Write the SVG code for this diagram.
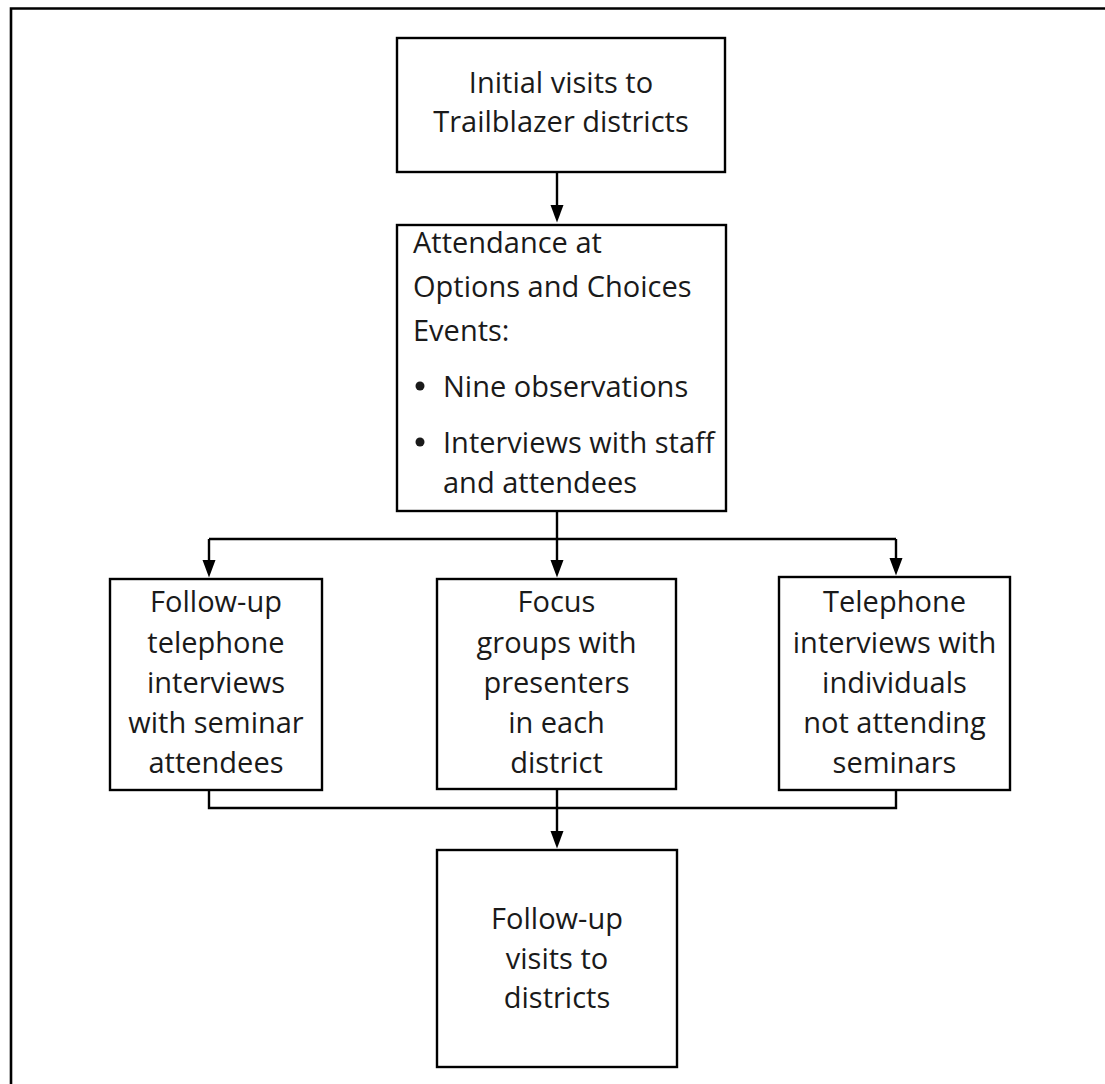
<svg xmlns="http://www.w3.org/2000/svg" width="1105" height="1084" viewBox="0 0 1105 1084">
<style>
.box{fill:#fff;stroke:#000;stroke-width:2.4}
.t{font-family:"Open Sans","Noto Sans","Liberation Sans",sans-serif;font-size:29px;fill:#1a1a1a}
.c{text-anchor:middle}
.conn{fill:none;stroke:#000;stroke-width:2.4}
.head{fill:#000}
.frame{fill:none;stroke:#000;stroke-width:2.6}
</style>
<rect width="1105" height="1084" fill="#fff"/>
<path class="frame" d="M11,1084 V8.5 H1105"/>
<g id="connectors">
<path d="M557,172 V206" class="conn"/>
<path class="head" d="M550.5,205 L563.5,205 L557,222.5 Z"/>
<path d="M557,511 V539 M209,539 H896 M209,539 V562 M557,539 V562 M896,539 V560" class="conn"/>
<path class="head" d="M202.5,560 L215.5,560 L209,577.5 Z M550.5,560 L563.5,560 L557,577.5 Z M889.5,558 L902.5,558 L896,575.5 Z"/>
<path d="M209,790 V808 H896 V790 M557,789 V832" class="conn"/>
<path class="head" d="M550.5,831 L563.5,831 L557,848.5 Z"/>
</g>
<g id="n1">
<rect class="box" x="397" y="38" width="328" height="134"/>
<text class="t c" x="561" y="93">Initial visits to</text>
<text class="t c" x="561" y="132">Trailblazer districts</text>
</g>
<g id="n2">
<rect class="box" x="397" y="225" width="329" height="286"/>
<text class="t" x="413" y="253">Attendance at</text>
<text class="t" x="413" y="297">Options and Choices</text>
<text class="t" x="413" y="341">Events:</text>
<circle cx="420" cy="386" r="4.5" fill="#1a1a1a"/>
<text class="t" x="443" y="397">Nine observations</text>
<circle cx="420" cy="442" r="4.5" fill="#1a1a1a"/>
<text class="t" x="443" y="453">Interviews with staff</text>
<text class="t" x="443" y="493">and attendees</text>
</g>
<g id="n3">
<rect class="box" x="110" y="579" width="212" height="211"/>
<text class="t c" x="216" y="612">Follow-up</text>
<text class="t c" x="216" y="653">telephone</text>
<text class="t c" x="216" y="693">interviews</text>
<text class="t c" x="216" y="733">with seminar</text>
<text class="t c" x="216" y="773">attendees</text>
</g>
<g id="n4">
<rect class="box" x="437" y="579" width="239" height="210"/>
<text class="t c" x="556.5" y="612">Focus</text>
<text class="t c" x="556.5" y="653">groups with</text>
<text class="t c" x="556.5" y="693">presenters</text>
<text class="t c" x="556.5" y="733">in each</text>
<text class="t c" x="556.5" y="773">district</text>
</g>
<g id="n5">
<rect class="box" x="779" y="577" width="231" height="213"/>
<text class="t c" x="894.5" y="612">Telephone</text>
<text class="t c" x="894.5" y="653">interviews with</text>
<text class="t c" x="894.5" y="693">individuals</text>
<text class="t c" x="894.5" y="733">not attending</text>
<text class="t c" x="894.5" y="773">seminars</text>
</g>
<g id="n6">
<rect class="box" x="437" y="850" width="240" height="217"/>
<text class="t c" x="557" y="929">Follow-up</text>
<text class="t c" x="557" y="969">visits to</text>
<text class="t c" x="557" y="1008">districts</text>
</g>
</svg>
